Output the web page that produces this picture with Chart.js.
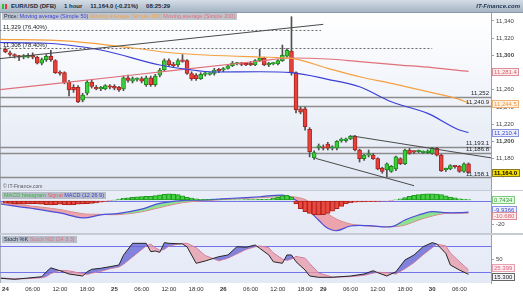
<!DOCTYPE html>
<html lang="en">
<head>
<meta charset="UTF-8">
<title>EUR/USD (DFB) - 1 hour</title>
<script src="https://cdn.jsdelivr.net/npm/chart.js"></script>
<style>
  body { margin: 0; background: #fff; }
  #wrap { position: relative; width: 523px; height: 296px; overflow: hidden; background: #c6cbd3;
          font-family: 'Liberation Sans', Arial, sans-serif; }
  canvas { position: absolute; left: 0; }
  #cPrice { top: 13px; }
  #cMacd { top: 191px; }
  #cStoch { top: 235px; }
  .t { position: absolute; white-space: nowrap; }
  #hdr { left: 0; top: 0; width: 523px; height: 12px; border-bottom: 1px solid #8a99aa;
         background: linear-gradient(#d4dde7, #a5b4c4); font-size: 6px; font-weight: bold;
         line-height: 12px; color: #17283a; }
  #hdr .g { margin-right: 8px; }
  #hdr .ico { display: inline-block; margin: 0 3px 0 2px; }
  #hdr .ico i { display: inline-block; width: 2px; height: 5px; margin-right: 1px; vertical-align: middle; }
  #hdr .brand { position: absolute; right: 3px; top: 0; font-style: italic; color: #1d3550; }
  .lg { left: 2px; height: 7px; line-height: 7px; font-size: 5.5px; padding: 0 2px;
        background: rgba(148, 156, 170, 0.6); }
  #copy { left: 3px; top: 183px; font-size: 5px; color: #555; }
</style>
</head>
<body>
<div id="wrap">
  <canvas id="cPrice" width="523" height="177"></canvas>
  <canvas id="cMacd" width="523" height="42"></canvas>
  <canvas id="cStoch" width="523" height="61"></canvas>

  <div id="hdr" class="t"><span class="ico"><i style="background:#2fbf2f"></i><i style="background:#e23b35"></i></span><span class="g">EUR/USD (DFB)</span><span class="g">1 hour</span><span class="g">11,164.0 (-0.21%)</span><span class="g">08:25:29</span><span class="brand">IT-Finance.com</span></div>
  <div class="t lg" style="top:13px"><span style="color:#1c2a44">Price: </span><span style="color:#3b3fd6">Moving average (Simple 50)</span> <span style="color:#f5a040">Moving average (Simple 100)</span> <span style="color:#e0707a">Moving average (Simple 200)</span></div>
  <div id="copy" class="t">© IT-Finance.com</div>
  <div class="t lg" style="top:192px"><span style="color:#35b835">MACD histogram</span> <span style="color:#e0606a">Signal</span> <span style="color:#3b3fd6">MACD (12 26 9)</span></div>
  <div class="t lg" style="top:236px"><span style="color:#1c2a44">Stoch %K</span> <span style="color:#e0707a">Stoch %D (14 3 3)</span></div>
</div>

<script>
// hourly candles, index 0 = 24 Oct 00:00
const opens = [11307, 11303, 11301, 11299, 11298, 11298, 11300, 11298, 11291, 11295,
  11299, 11294, 11280, 11280, 11269, 11263, 11263, 11248, 11256, 11269,
  11263, 11261, 11261, 11264, 11264, 11263, 11261, 11274, 11270, 11272,
  11273, 11266, 11274, 11266, 11277, 11283, 11294, 11290, 11289, 11294,
  11294, 11279, 11277, 11273, 11278, 11278, 11279, 11283, 11283, 11285,
  11288, 11290, 11290, 11290, 11291, 11289, 11294, 11297, 11289, 11290,
  11290, 11294, 11299, 11305, 11280, 11238, 11238, 11214, 11181, 11193,
  11193, 11197, 11192, 11192, 11201, 11201, 11203, 11206, 11190, 11180,
  11184, 11184, 11180, 11169, 11167, 11165, 11168, 11180, 11174, 11190,
  11188, 11188, 11187, 11187, 11186, 11192, 11184, 11167, 11168, 11171,
  11171, 11165, 11174];
const highs = [11309, 11305, 11302, 11300, 11301, 11302, 11303, 11299, 11297, 11301,
  11306, 11295, 11282, 11281, 11271, 11266, 11265, 11256, 11271, 11271,
  11265, 11264, 11266, 11266, 11266, 11264, 11276, 11277, 11275, 11274,
  11275, 11276, 11276, 11278, 11285, 11296, 11296, 11292, 11296, 11301,
  11295, 11281, 11279, 11280, 11281, 11280, 11285, 11285, 11286, 11289,
  11293, 11292, 11292, 11291, 11293, 11295, 11307, 11298, 11292, 11292,
  11295, 11312, 11308, 11345, 11281, 11240, 11240, 11216, 11189, 11197,
  11196, 11199, 11195, 11201, 11204, 11204, 11207, 11207, 11191, 11185,
  11190, 11186, 11181, 11170, 11175, 11172, 11183, 11181, 11191, 11192,
  11189, 11190, 11189, 11190, 11193, 11193, 11185, 11169, 11173, 11172,
  11172, 11175, 11175];
const lows = [11303, 11299, 11297, 11294, 11296, 11297, 11296, 11290, 11289, 11293,
  11293, 11279, 11277, 11267, 11253, 11257, 11245, 11246, 11254, 11262,
  11260, 11259, 11260, 11261, 11260, 11258, 11259, 11269, 11268, 11270,
  11268, 11264, 11264, 11264, 11275, 11282, 11287, 11286, 11287, 11292,
  11278, 11271, 11271, 11272, 11276, 11277, 11277, 11280, 11281, 11284,
  11287, 11289, 11288, 11288, 11288, 11288, 11293, 11288, 11287, 11289,
  11289, 11293, 11298, 11277, 11233, 11232, 11213, 11182, 11179, 11190,
  11190, 11190, 11190, 11190, 11199, 11199, 11202, 11189, 11176, 11178,
  11182, 11179, 11167, 11163, 11159, 11164, 11166, 11173, 11173, 11185,
  11186, 11187, 11186, 11186, 11185, 11183, 11165, 11165, 11167, 11169,
  11164, 11164, 11163];
const closes = [11304, 11301, 11299, 11298, 11299, 11300, 11298, 11291, 11295, 11299,
  11295, 11280, 11279, 11268, 11260, 11260, 11246, 11254, 11269, 11264,
  11261, 11262, 11265, 11263, 11262, 11260, 11274, 11271, 11273, 11272.5,
  11270, 11274, 11266, 11276, 11283, 11294, 11289, 11288, 11294, 11293,
  11279, 11273, 11273, 11278, 11279, 11278.5, 11283, 11282, 11284, 11288,
  11291, 11290.5, 11289.5, 11289, 11289, 11294, 11297, 11289, 11291, 11290.5,
  11294, 11300, 11306, 11280, 11237, 11234, 11217, 11188, 11187, 11194,
  11192, 11192, 11192.5, 11200, 11201.5, 11203, 11206, 11190, 11180, 11184,
  11185, 11180, 11168, 11165, 11174, 11171, 11182, 11174, 11190, 11186,
  11187.5, 11188.5, 11187.5, 11189, 11192, 11184, 11166, 11167.5, 11172, 11170.5,
  11165, 11174, 11164.0];

// moving averages (read at a few candle indices)
const sma50X = [-2, 8, 21, 34, 40, 46, 56, 63, 71, 78, 85, 93, 100, 102];
const sma50 = [11315, 11314.4, 11306.3, 11288.8, 11283.8, 11280.7, 11281, 11279.9, 11272.2, 11263.6, 11246.1, 11232.6, 11213.2, 11210.4];
const sma100X = [-2, 14, 28, 37, 56, 63, 71, 78, 85, 93, 100, 102];
const sma100 = [11318.7, 11316.7, 11308.6, 11302.8, 11298.1, 11296.6, 11285, 11275.2, 11267.5, 11257.8, 11248.9, 11244.5];
const sma200X = [-2, 28, 56, 63, 71, 78, 87, 94, 102];
const sma200 = [11259.7, 11277.2, 11293.5, 11297, 11295.8, 11292.7, 11288.8, 11285.9, 11281.4];

// drawn objects
const trendRiseX = [-2, 70], trendRiseY = [11295.8, 11336.1];
const chanTopX = [76.4, 108], chanTopY = [11206.3, 11180.0];
const chanLowX = [68.3, 90], chanLowY = [11180.3, 11148.5];
const fibLevels = [11329, 11308];
const fibEndX = [69.5, 94];
const fibLabels = ['11,329 (76.40%)', '11,308 (78.40%)'];
const srLevels = [11252, 11240.9, 11193.1, 11186.8, 11158.1];
const srLabels = ['11,252', '11,240.9', '11,193.1', '11,186.8', '11,158.1'];

// MACD (12 26 9)
const macdHist = [-2, -2.5, -3, -3, -3.2, -3, -2.8, -3, -3.2, -3.5, -3.8, -3.5, -3.2, -3.5, -3.8, -3.6, -3.2, -3, -2.8, -2.5, -2, -1.5,
  -0.8, -0.3, 0.3,
  1.2, 1.8, 2.3, 2.8, 3.1, 3.3, 3.5, 3.6, 4.2, 4.8, 5.3, 5.6, 5.5, 5, 4, 2.8,
  2, 1.4, 1, 0.8, 0.7, 0.6, 0.6, 0.5, 0.5, 0.5, 0.6, 0.6, 0.7, 0.7, 0.8, 0.9, 1, 1.2,
  1.8, 3, 4, 4.5, 3,
  -3, -7, -9.5, -11, -12, -12.3, -12, -11, -9, -7, -5, -3, -1.8,
  -1.5, -1.3, -1.2, -1, -1, -0.8, -0.6, -0.4, -0.2,
  0.5, 1.5, 2.5, 3.5, 4.5, 5, 5.5, 5.7, 5.7, 5.5, 5, 4, 3, 2.2, 1.5, 1, 0.7434];
const macdX = [-1, 6, 12, 17, 21, 25, 30, 34, 39, 43, 50, 56, 61, 63, 66, 69, 71, 73, 76, 80, 85, 88, 91, 94, 97, 100, 102];
const macdLine = [-3.0, -6.8, -10.6, -14.8, -12.3, -10.9, -7.3, -2.4, 0.0, 0.4, 1.9, 3.2, 4.6, 2.5, -5.5, -16.8, -23.7, -25.7, -21.7, -21.4, -22.3, -16.6, -12.3, -9.5, -10.4, -10.4, -9.9366];
const signalLine = [-2.1, -4.9, -7.7, -11.3, -11.8, -12.0, -9.6, -6.0, -1.8, -0.4, 1.3, 2.4, 3.4, 3.3, 0.8, -6.8, -11.5, -16.0, -20.0, -21.7, -22.3, -20.9, -16.6, -13.2, -10.9, -10.8, -10.680];

// Stochastic (14 3 3)
const stochX = [-1, 2, 5, 8, 9, 10, 12, 14, 17, 18, 19, 21, 23, 25, 26, 28, 31, 32, 33, 34, 35, 36, 39, 40, 42, 44, 47, 49, 51, 53,
  55, 56, 58, 59, 61, 62, 63, 64, 66, 67, 69, 72, 76, 79, 81, 82, 84, 86, 88, 90, 92, 94, 95, 97, 98, 100, 102];
const stochK = [6.2, 3.8, 6.8, 9.8, 21, 30, 23.5, 16, 11.4, 21, 26.7, 29, 32.6, 36.5, 59, 86, 86, 67, 68.5, 65.5, 87.5, 86, 84.5, 78, 40.4, 45.7, 55.5, 59.4, 78.3, 77,
  82.2, 74.7, 59.4, 44, 40.4, 59.4, 59.4, 44, 25, 11.4, 8.4, 8.4, 11.4, 16, 23.5, 19, 11.4, 21, 48, 59.4, 78.3, 87.5, 84.5, 63, 36.5, 25, 15.3];
const stochD = [7, 5, 5.5, 7.5, 10, 17, 24, 23, 17, 15, 18, 22, 28, 32, 38, 55, 80, 84, 76, 70, 72, 80, 86, 86, 76, 58, 46, 52, 62, 72,
  78, 80, 76, 64, 50, 47, 50, 56, 52, 40, 18, 9, 10, 13, 18, 20, 19, 16, 28, 42, 60, 76, 84, 80, 64, 44, 25.399];

// time axis
const xTickIdx = [0, 6, 12, 18, 24, 30, 36, 42, 48, 54, 60, 66, 70, 76, 82, 88, 94, 100];
const xTickLabels = ['24', '06:00', '12:00', '18:00', '25', '06:00', '12:00', '18:00', '26', '06:00', '12:00', '18:00', '29', '06:00', '12:00', '18:00', '30', '06:00'];

const FONT = "'Liberation Sans', Arial, sans-serif";
Chart.defaults.font.family = FONT;
Chart.defaults.font.size = 6;
Chart.defaults.color = '#333';

const X_MIN = -1.2, X_MAX = 106.95;
const RED = '#e8413c', RED_B = '#a82420', GREEN = '#3ccf3c', GREEN_B = '#1f8a1f';

const pts = (xs, ys) => xs.map((x, i) => ({ x: x, y: ys[i] }));
const last = a => a[a.length - 1];

// panel background + white axis strip
const bgPlugin = {
  id: 'panelBg',
  beforeDraw(chart, args, opts) {
    const { ctx, chartArea: a, width, height } = chart;
    ctx.save();
    ctx.fillStyle = '#fff';
    ctx.fillRect(0, 0, width, height);
    const g = ctx.createLinearGradient(0, a.top, 0, a.bottom);
    g.addColorStop(0, opts.from);
    g.addColorStop(1, opts.to);
    ctx.fillStyle = g;
    ctx.fillRect(a.left, a.top, a.right - a.left, a.bottom - a.top);
    ctx.fillStyle = '#a9afb8';
    ctx.fillRect(0, a.top, 1, a.bottom - a.top);
    ctx.restore();
  }
};

// full-width horizontal levels
const levelPlugin = {
  id: 'levels',
  beforeDatasetsDraw(chart, args, opts) {
    const { ctx, chartArea: a } = chart;
    const y = chart.scales.y;
    ctx.save();
    (opts.lines || []).forEach(l => {
      const py = Math.round(y.getPixelForValue(l.value)) + 0.5;
      ctx.strokeStyle = l.color;
      ctx.lineWidth = l.width || 1;
      ctx.beginPath();
      ctx.moveTo(a.left, py);
      ctx.lineTo(a.right, py);
      ctx.stroke();
    });
    ctx.restore();
  }
};

// small captions sitting on top of a level
const notePlugin = {
  id: 'notes',
  afterDatasetsDraw(chart, args, opts) {
    const { ctx, chartArea: a } = chart;
    const y = chart.scales.y;
    ctx.save();
    ctx.font = '6px ' + FONT;
    ctx.fillStyle = '#222';
    ctx.textBaseline = 'bottom';
    (opts.items || []).forEach(n => {
      ctx.textAlign = n.align;
      ctx.fillText(n.text, n.align === 'left' ? a.left + 3 : a.right - 2, y.getPixelForValue(n.value) - 0.5);
    });
    ctx.restore();
  }
};

// boxed last-value tags on the right axis
const tagPlugin = {
  id: 'tags',
  afterDraw(chart, args, opts) {
    const ctx = chart.ctx, y = chart.scales.y;
    const gap = opts.gap || 8, h = 7;
    const items = (opts.items || []).map(t => Object.assign({}, t, { py: y.getPixelForValue(t.value) }));
    items.sort((p, q) => p.py - q.py);
    for (let n = 0; n < 10; n++) {
      for (let i = 1; i < items.length; i++) {
        const d = items[i].py - items[i - 1].py;
        if (d < gap) { const m = (gap - d) / 2; items[i].py += m; items[i - 1].py -= m; }
      }
    }
    ctx.save();
    items.forEach(t => {
      ctx.font = (t.bold ? 'bold ' : '') + '6px ' + FONT;
      const w = Math.ceil(ctx.measureText(t.text).width) + 3;
      const x = y.left + 1.5, top = Math.round(t.py - h / 2) + 0.5;
      ctx.fillStyle = t.bg;
      ctx.fillRect(x, top, w, h);
      ctx.strokeStyle = t.border;
      ctx.lineWidth = 1;
      ctx.strokeRect(x, top, w, h);
      ctx.fillStyle = t.color;
      ctx.textBaseline = 'middle';
      ctx.textAlign = 'left';
      ctx.fillText(t.text, x + 1.5, top + h / 2 + 0.5);
    });
    ctx.restore();
  }
};

function xAxis(show) {
  return {
    type: 'linear', min: X_MIN, max: X_MAX, display: show, offset: false,
    afterFit(s) { s.paddingLeft = 0; s.paddingRight = 0; if (show) s.height = 13; },
    afterBuildTicks(s) { s.ticks = xTickIdx.map(v => ({ value: v })); },
    grid: { display: false, drawTicks: false },
    border: { display: false },
    ticks: {
      autoSkip: false, maxRotation: 0, padding: 3, color: '#333',
      callback: (v, i) => xTickLabels[i],
      font: c => ({ size: 6, weight: (xTickLabels[c.index] || '').includes(':') ? 'normal' : 'bold' })
    }
  };
}

function yAxis(min, max, step) {
  return {
    position: 'right', min: min, max: max,
    afterFit(s) { s.width = 32; s.paddingTop = 0; s.paddingBottom = 0; },
    afterBuildTicks(s) {
      s.ticks = s.ticks.filter(t => Math.abs(t.value / step - Math.round(t.value / step)) < 1e-6 && t.value >= min && t.value <= max);
    },
    grid: { drawOnChartArea: false, drawTicks: true, tickLength: 3, color: '#9aa0aa' },
    border: { color: '#9aa0aa' },
    ticks: {
      stepSize: step, padding: 2, color: '#444',
      font: c => ({ size: 6, weight: c.tick && Math.round(c.tick.value) % 100 === 0 ? 'bold' : 'normal' })
    }
  };
}

const baseOpts = {
  responsive: false, animation: false, events: [], locale: 'en-US',
  layout: { padding: 0 }
};
const lineDs = (data, color, width, order, extra) => Object.assign({
  type: 'line', data: data, borderColor: color, borderWidth: width, pointRadius: 0,
  fill: false, order: order
}, extra || {});

// ---------------- price panel ----------------
const candleIdx = closes.map((c, i) => i);
const upDown = candleIdx.map(i => closes[i] >= opens[i]);

const priceDatasets = [
  lineDs(pts(trendRiseX, trendRiseY), '#4a4a4a', 1, 0),
  lineDs(pts(chanTopX, chanTopY), '#4a4a4a', 1, 0),
  lineDs(pts(chanLowX, chanLowY), '#4a4a4a', 1, 0),
  lineDs(pts(sma50X, sma50), '#3b3fd6', 1.2, 1, { cubicInterpolationMode: 'monotone' }),
  lineDs(pts(sma100X, sma100), '#f5a040', 1.2, 1, { cubicInterpolationMode: 'monotone' }),
  lineDs(pts(sma200X, sma200), '#e0707a', 1.2, 1, { cubicInterpolationMode: 'monotone' }),
  {
    type: 'bar', order: 3, grouped: false, barThickness: 4, borderWidth: 1, borderSkipped: false, minBarLength: 1.5,
    data: candleIdx.map(i => ({ x: i, y: [opens[i], closes[i]] })),
    backgroundColor: upDown.map(u => u ? GREEN : RED),
    borderColor: upDown.map(u => u ? GREEN_B : RED_B)
  },
  {
    type: 'bar', order: 4, grouped: false, barThickness: 1,
    data: candleIdx.map(i => ({ x: i, y: [lows[i], highs[i]] })),
    backgroundColor: '#505050'
  }
];
fibLevels.forEach((lvl, i) => {
  priceDatasets.push(lineDs([{ x: X_MIN - 1, y: lvl }, { x: fibEndX[i], y: lvl }], '#666', 1, 2, { borderDash: [2, 2] }));
});

new Chart(document.getElementById('cPrice'), {
  type: 'bar',
  data: { datasets: priceDatasets },
  options: Object.assign({}, baseOpts, {
    scales: { x: xAxis(false), y: yAxis(11143.5, 11349.3, 20) },
    plugins: {
      legend: { display: false }, tooltip: { enabled: false },
      panelBg: { from: '#ffffff', to: '#e0e7f4' },
      levels: { lines: srLevels.map(v => ({ value: v, color: '#8c8c8c', width: 1.3 })) },
      notes: {
        items: fibLevels.map((v, i) => ({ value: v, text: fibLabels[i], align: 'left' }))
          .concat(srLevels.map((v, i) => ({ value: v, text: srLabels[i], align: 'right' })))
      },
      tags: {
        gap: 8,
        items: [
          { value: last(sma200), text: last(sma200).toFixed(1).replace(/^(\d{2})/, '$1,'), color: '#d9606a', bg: '#fbecee', border: '#dc8e96' },
          { value: last(sma100), text: last(sma100).toFixed(1).replace(/^(\d{2})/, '$1,'), color: '#f29a3a', bg: '#fdf1e4', border: '#f0b274' },
          { value: last(sma50), text: last(sma50).toFixed(1).replace(/^(\d{2})/, '$1,'), color: '#3a48d0', bg: '#eef0fc', border: '#8a92e2' },
          { value: last(closes), text: last(closes).toFixed(1).replace(/^(\d{2})/, '$1,'), color: '#000', bg: '#f5dc00', border: '#8a7a20', bold: true }
        ]
      }
    }
  }),
  plugins: [bgPlugin, levelPlugin, notePlugin, tagPlugin]
});

// ---------------- MACD panel ----------------
new Chart(document.getElementById('cMacd'), {
  type: 'bar',
  data: {
    datasets: [
      {
        type: 'bar', order: 0, grouped: false, barThickness: 4.5, borderWidth: 1, borderSkipped: false,
        data: macdHist.map((v, i) => ({ x: i, y: v })),
        backgroundColor: macdHist.map(v => v >= 0 ? '#45d245' : '#e9493f'),
        borderColor: macdHist.map(v => v >= 0 ? '#1e9a1e' : '#b0201a')
      },
      lineDs(pts(macdX, macdLine), '#4a4ed8', 1.2, 1, {
        tension: 0.35,
        fill: { target: 2, above: 'rgba(128,222,128,0.85)', below: 'rgba(236,150,160,0.85)' }
      }),
      lineDs(pts(macdX, signalLine), '#e07a84', 1, 1, { tension: 0.35 })
    ]
  },
  options: Object.assign({}, baseOpts, {
    scales: { x: xAxis(false), y: yAxis(-27.66, 8.09, 20) },
    plugins: {
      legend: { display: false }, tooltip: { enabled: false },
      panelBg: { from: '#eaeef8', to: '#e4e9f5' },
      levels: { lines: [{ value: 0, color: '#7474ea', width: 1 }] },
      tags: {
        gap: 6.5,
        items: [
          { value: last(macdHist), text: last(macdHist).toFixed(4), color: '#2f9f2f', bg: '#e8f8e8', border: '#7ccc7c' },
          { value: last(macdLine), text: last(macdLine).toFixed(4), color: '#3a48d0', bg: '#eef0fc', border: '#8a92e2' },
          { value: last(signalLine), text: last(signalLine).toFixed(3), color: '#d9606a', bg: '#fbecee', border: '#dc8e96' }
        ]
      }
    }
  }),
  plugins: [bgPlugin, levelPlugin, tagPlugin]
});

// ---------------- Stochastic panel ----------------
new Chart(document.getElementById('cStoch'), {
  type: 'bar',
  data: {
    datasets: [
      lineDs(pts(stochX, stochK), '#262626', 1, 0, {
        fill: { target: 1, above: 'rgba(104,104,214,0.8)', below: 'rgba(232,152,166,0.75)' }
      }),
      lineDs(pts(stochX, stochD), '#e07a90', 1, 1)
    ]
  },
  options: Object.assign({}, baseOpts, {
    scales: { x: xAxis(true), y: yAxis(-4.57, 105, 50) },
    plugins: {
      legend: { display: false }, tooltip: { enabled: false },
      panelBg: { from: '#eaeef9', to: '#e4e9f6' },
      levels: { lines: [{ value: 80, color: '#7474ea', width: 1 }, { value: 20, color: '#7474ea', width: 1 }] },
      tags: {
        gap: 8.5,
        items: [
          { value: last(stochD), text: last(stochD).toFixed(3), color: '#e0607a', bg: '#fbecf0', border: '#e6a0b0' },
          { value: last(stochK), text: last(stochK).toFixed(3), color: '#222', bg: '#f2f4fa', border: '#666' }
        ]
      }
    }
  }),
  plugins: [bgPlugin, levelPlugin, tagPlugin]
});
</script>
</body>
</html>
